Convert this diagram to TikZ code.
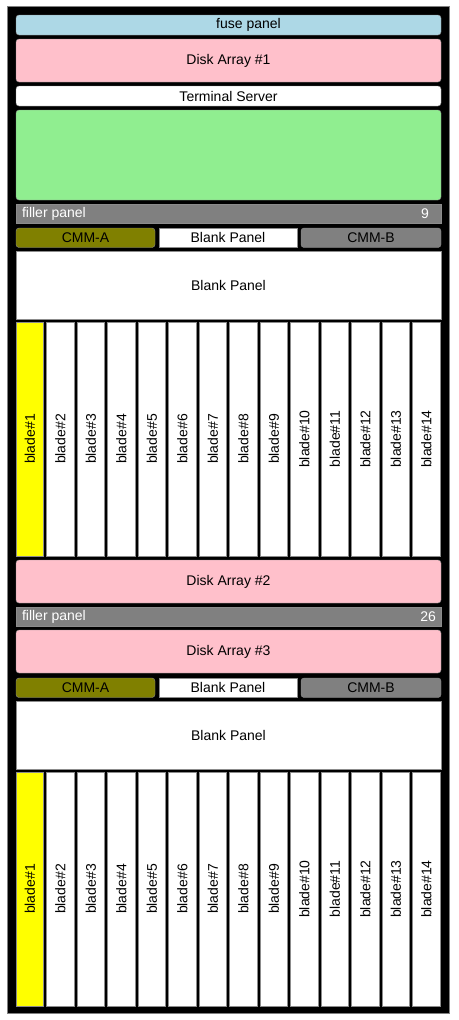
\documentclass[tikz,border=0pt]{standalone}
\usepackage{fontspec}
\setmainfont{Liberation Sans}
\usetikzlibrary{positioning}

\definecolor{fusecol}{HTML}{ADD8E6}
\definecolor{diskcol}{HTML}{FFC0CB}
\definecolor{srvcol}{HTML}{90EE90}
\definecolor{fillcol}{HTML}{808080}
\definecolor{cmmacol}{HTML}{808000}
\definecolor{bladecol}{HTML}{FFFF00}

\tikzset{
  panel/.style={rectangle, rounded corners=3pt, draw=black!45, line width=0.4pt,
    inner sep=0pt, minimum width=425pt},
  flat/.style={panel, sharp corners},
  blade/.style={rectangle, draw=black!45, line width=0.4pt, inner sep=0pt,
    fill=white, minimum width=234pt, minimum height=27.5pt, rotate=90},
  fillertext/.style={text=white, inner sep=0pt}
}

\begin{document}
\begin{tikzpicture}[x=1pt, y=-1pt, font=\fontsize{14}{16}\selectfont]

% Page and rack frame
\useasboundingbox[fill=white] (0, 0) rectangle (458, 1020);
\draw[fill=black, draw=black!50, line width=0.6pt] (7, 6) rectangle (449, 1013);

% Top of the rack
\node[panel, fill=fusecol, minimum height=20pt] (fuse) at (228.5, 25) {};
\node[inner sep=0pt, anchor=east] (fuse-text) at (281, 25) {fuse panel};
\node[panel, fill=diskcol, minimum height=43pt] (disk1) at (228.5, 60.5) {Disk Array \#1};
\node[panel, fill=white, minimum height=20pt] (term) at (228.5, 96) {Terminal Server};
\node[panel, fill=srvcol, minimum height=90pt] (srv) at (228.5, 155) {};
\node[flat, fill=fillcol, minimum height=19pt] (filler1) at (228.5, 213.5) {};
\node[fillertext, anchor=west] (filler1-text) at ([xshift=6pt]filler1.west) {filler panel};
\node[fillertext, anchor=east] (filler1-num) at ([xshift=-12pt]filler1.east) {9};

% Middle of the rack
\node[panel, fill=diskcol, minimum height=43pt] (disk2) at (228.5, 581.5) {Disk Array \#2};
\node[flat, fill=fillcol, minimum height=19pt] (filler2) at (228.5, 616.5) {};
\node[fillertext, anchor=west] (filler2-text) at ([xshift=6pt]filler2.west) {filler panel};
\node[fillertext, anchor=east] (filler2-num) at ([xshift=-5pt]filler2.east) {26};
\node[panel, fill=diskcol, minimum height=43pt] (disk3) at (228.5, 651.5) {Disk Array \#3};

% Two blade chassis
\foreach \k/\off in {1/0, 2/450} {
  \node[panel, fill=cmmacol, minimum width=139pt, minimum height=19.5pt] (cmma-\k) at (85.5, 237.75+\off) {CMM-A};
  \node[flat, fill=white, minimum width=138pt, minimum height=19.5pt] (blank-\k) at (228, 237.75+\off) {Blank Panel};
  \node[panel, fill=fillcol, minimum width=140pt, minimum height=19.5pt] (cmmb-\k) at (371, 237.75+\off) {CMM-B};
  \node[flat, fill=white, minimum height=68pt] (bigblank-\k) at (228.5, 285+\off) {Blank Panel};
  \node[blade, fill=bladecol] (blade-\k-1) at (29.75, 439+\off) {blade\#1};
  \foreach \i in {2,...,14} {
    \node[blade] (blade-\k-\i) at (29.75+30.5*\i-30.5, 439+\off) {blade\#\i};
  }
}

\end{tikzpicture}
\end{document}
